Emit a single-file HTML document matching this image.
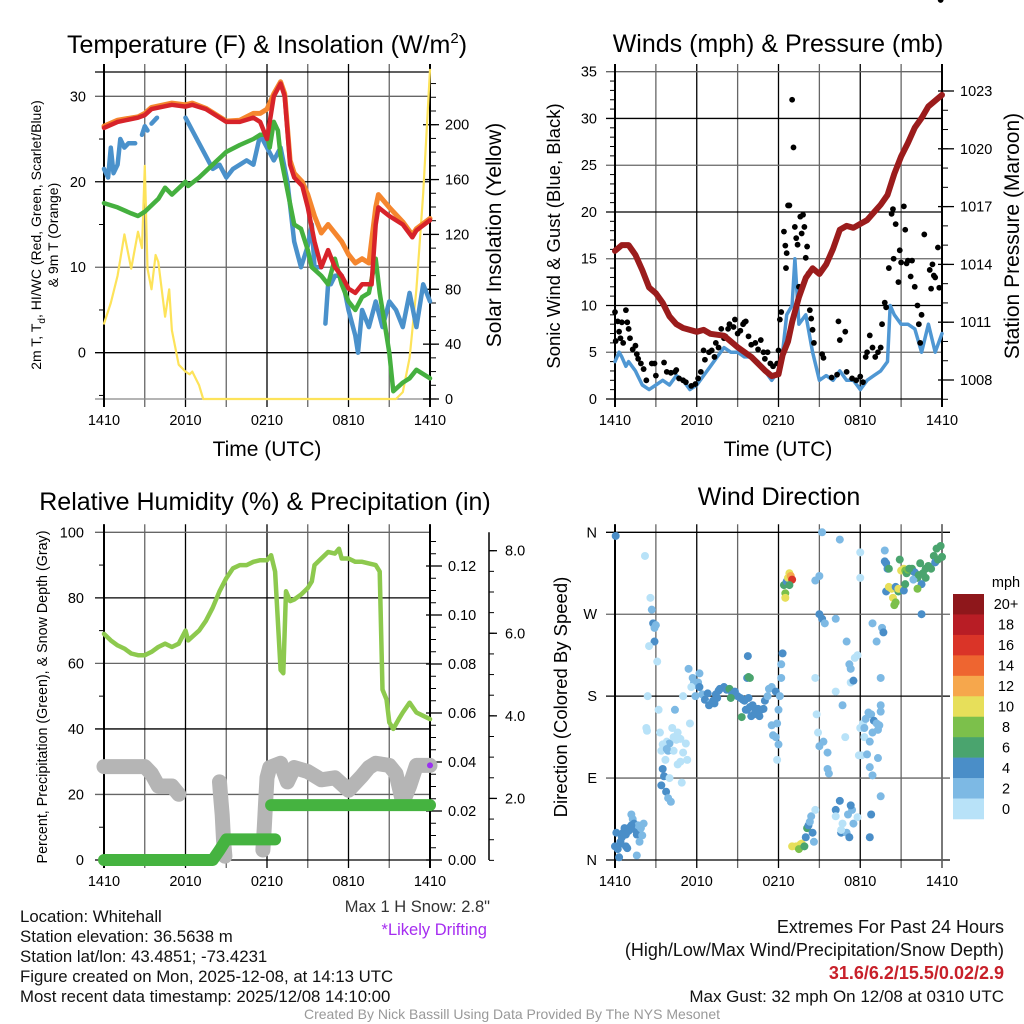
<!DOCTYPE html>
<html><head><meta charset="utf-8"><style>
html,body{margin:0;padding:0;background:#fff;}
svg{display:block;font-family:"Liberation Sans",Arial,sans-serif;}
</style></head><body>
<svg id="fig" width="1024" height="1024" viewBox="0 0 1024 1024" xmlns="http://www.w3.org/2000/svg">
<rect width="1024" height="1024" fill="#fff"/>
<g id="p1"></g>
<g id="p2"></g>
<g id="p3"></g>
<g id="p4"></g>
<g font-size="16.8" fill="#111">
<text x="20" y="922">Location: Whitehall</text>
<text x="20" y="942">Station elevation: 36.5638 m</text>
<text x="20" y="962">Station lat/lon: 43.4851; -73.4231</text>
<text x="20" y="982">Figure created on Mon, 2025-12-08, at 14:13 UTC</text>
<text x="20" y="1002">Most recent data timestamp: 2025/12/08 14:10:00</text>
<text x="490" y="912" text-anchor="end" fill="#333" font-size="16.5">Max 1 H Snow: 2.8"</text>
<text x="487" y="935" text-anchor="end" fill="#a52cf0" font-size="16.5">*Likely Drifting</text>
<g font-size="18">
<text x="1004" y="933" text-anchor="end">Extremes For Past 24 Hours</text>
<text x="1004" y="956" text-anchor="end">(High/Low/Max Wind/Precipitation/Snow Depth)</text>
<text x="1004" y="979" text-anchor="end" fill="#c8202a" font-weight="bold">31.6/6.2/15.5/0.02/2.9</text>
<text x="1004" y="1002" text-anchor="end" font-size="17">Max Gust: 32 mph On 12/08 at 0310 UTC</text>
</g>
<text x="512" y="1019" text-anchor="middle" font-size="14" fill="#999">Created By Nick Bassill Using Data Provided By The NYS Mesonet</text>
</g>
</svg>
<script>
// ---------- DATA ----------
const timeTicks = ["1410","2010","0210","0810","1410"];
// Panel 1
const tempT = [0,1,2.5,3,3.5,5,6,6.5,7.5,8,9,10,11,11.5,12,12.5,13,13.3,13.7,14,14.6,15,15.5,16,16.5,17,17.5,18,18.5,19,19.7,20,20.2,21,22,22.7,23,24];
const tempV = [26.3,27,27.5,27.8,28.5,29,28.8,29,28.5,28,27,27,27.5,27,25,30,31.5,30,22,20.5,19.5,17,13,10,12,10,9,7.5,7,8,8,15,17,16,15,13.5,14.3,15.5];
const t9T = [0,1,2.5,3,3.5,5,6,6.5,7.5,8,9,10,11,11.5,12,12.5,13,13.3,13.7,14,14.6,15,15.5,16,16.5,17,17.5,18,18.5,19,19.5,20,20.2,21,22,22.7,23,24];
const t9V = [26.5,27.2,27.6,28,28.7,29.2,29,29.2,28.6,28.1,27.1,27.2,28,28,28.5,30.3,31.7,30.3,22.5,21,20,18.5,16,14,15,14,13,11.5,10.5,11,10.5,17,18.5,17,15.3,13.8,14.5,15.7];
const dewT = [0,1,2,2.5,3,4,4.5,5,6,6.2,7,8,9,10,11,11.5,12,12.2,12.5,12.8,13,13.5,14,14.5,15,15.3,16,16.5,17,17.5,18,18.5,19,19.5,20,20.3,21,21.3,22,22.5,23,24];
const dewV = [17.5,17,16.3,16,16.5,18,19.3,18.5,20,19.5,20.5,22,23.5,24.3,25,25.5,25.5,24,27,26,23,19,15,14.5,12,10,9,8,11,8,6,5,6.5,7,11,7,0,-4.5,-3.5,-3,-2,-3];
const wcT = [0,0.3,0.5,0.7,1,1.2,1.5,1.8,2,2.3,null,2.8,3,3.2,null,3.5,3.9,null,6,6.5,7,7.5,8,8.5,9,9.5,10,10.5,11,11.5,12,12.5,13,13.5,14,14.5,15,15.3,15.5,16,null,16.3,16.5,16.7,17,17.5,18,18.5,18.7,19,19.5,20,20.5,21,21.5,22,22.5,23,23.5,24];
const wcV = [21.5,20.5,24,21,22,25,24,24.5,24.5,24.5,null,25.5,26.5,26,null,26.8,27.5,null,27.5,26,24.5,23,21.5,22,20.5,21.5,22,22.5,22,25.5,24,22.5,24,20,13,10,12.5,15,10,10,null,3.4,8,8,9,9,5,2,0,5,3,6,3,6,5,3,7,3,8,6];
const solT = [0,0.5,1,1.5,2,2.5,2.8,3,3.2,3.5,3.8,4,4.5,4.8,5,5.5,6,6.3,6.5,7,7.3,21.5,22,22.5,23,23.5,24];
const solV = [55,70,90,120,95,122,110,170,95,80,105,100,60,80,50,25,20,18,20,10,0,0,5,30,80,150,240];
// Panel 2
const presT = [0,0.5,1,1.5,2,2.5,3,3.5,4,4.5,5,6,6.5,7,8,9,10,11,11.5,12,12.3,12.7,13,13.5,14,14.5,15,15.5,16,16.5,17,17.5,18,18.5,19,19.5,20,20.5,21,21.5,22,22.5,23,24];
const presV = [1014.7,1015,1015,1014.5,1013.7,1012.8,1012.5,1012,1011.3,1010.9,1010.7,1010.5,1010.6,1010.4,1010.3,1009.7,1009.2,1008.5,1008.2,1008.3,1009.3,1010,1011,1012.3,1013.3,1013.8,1013.5,1014,1014.8,1015.8,1016,1015.9,1016.1,1016.3,1016.7,1017.1,1017.6,1018.7,1019.6,1020.3,1021.1,1021.6,1022.2,1022.8];
const windT = [0,0.3,0.5,0.8,1,1.5,2,2.5,3,3.5,4,4.5,5,5.5,6,6.5,7,7.5,8,8.5,9,9.5,10,10.5,11,11.5,12,12.3,12.6,13,13.2,13.5,14,14.5,15,15.5,16,16.5,17,17.5,18,18.5,19,19.5,20,20.2,20.5,21,21.5,22,22.5,23,23.5,24];
const windV = [4,5,4.5,3.5,4,3,1.5,1,1.5,2,1.5,2.5,2,1,1.5,2.5,3.5,4.5,5.5,5,5,4.5,4.5,4,3,2,3,5,9,10,15,8,9,5,2,2.5,2,3,2,2,1,2,2.5,3,4,10,9,8,8,7.5,5,8,5,7];
const gustT = [0,0.05,0.2,0.3,0.4,0.5,0.6,0.8,0.9,1,1.1,1.3,1.5,1.6,1.7,1.9,2.1,2.3,2.7,2.9,3.0,3.6,3.8,4.1,4.4,4.5,4.7,5.0,5.2,5.6,5.9,6.1,6.3,6.5,6.6,6.9,7.1,7.3,7.4,7.6,7.8,8.0,8.1,8.3,8.4,8.7,8.8,9.0,9.2,9.4,9.5,9.6,9.8,10.0,10.3,10.5,10.7,10.9,11.0,11.2,11.4,11.6,11.9,12.0,12.1,12.2,12.4,12.5,12.55,12.6,12.7,12.8,13.0,13.1,13.2,13.3,13.4,13.5,13.6,13.7,13.8,13.9,14.0,14.1,14.2,14.3,14.4,14.5,14.6,15.2,15.3,15.9,16.3,16.4,16.5,16.9,17.0,17.4,17.7,18.0,18.2,18.4,18.5,18.7,18.9,19.1,19.3,19.5,19.6,19.8,19.9,20.1,20.3,20.4,20.45,20.6,20.8,20.9,21.0,21.2,21.3,21.4,21.5,21.7,21.8,22.0,22.2,22.3,22.4,22.5,22.7,23.1,23.2,23.3,23.4,23.5,23.7,23.8,23.9];
const gustV = [9.3,6.2,8.3,7.2,6.5,8.2,6.0,9.5,8.2,7.5,6.5,5.3,5.7,4.8,4.3,3.8,3.2,2.0,3.8,3.8,2.5,3.9,2.9,2.8,2.9,3.1,2.2,2.0,1.8,1.4,1.6,2.2,2.9,5.2,4.2,5.0,5.2,4.5,6.0,5.5,7.5,6.5,6.7,7.5,8.0,7.7,8.5,7.0,7.3,8.0,8.2,8.3,6.7,5.8,6.0,5.3,6.3,5.0,4.3,5.0,3.8,3.5,3.8,5.2,8.5,9.3,17.9,16.4,14.0,15.6,20.7,20.7,32.0,26.9,18.4,17.2,16.5,12.0,19.5,17.7,19.7,18.4,15.1,16.3,13.4,9.5,8.6,7.4,6.0,4.8,4.4,2.3,2.6,8.3,6.3,7.2,2.9,2.2,2.0,2.4,1.8,4.5,5.0,6.8,5.5,4.5,5.0,5.5,8.0,10.3,9.8,14.0,19.8,20.3,15.0,18.7,12.5,15.9,14.6,20.6,18.1,14.5,14.8,13.1,14.8,12.0,10.0,8.0,6.0,9.0,17.6,13.8,11.8,14.4,13.2,13.0,16.2,11.9];
// Panel 3
const rhT = [0,0.5,1,1.5,2,2.5,3,3.5,4,4.5,5,5.5,6,6.2,7,7.5,8,8.5,9,9.5,10,10.5,11,11.5,12,12.3,12.6,13,13.2,13.4,13.7,14,14.5,15,15.3,15.5,16,16.5,17,17.3,17.5,18,18.5,19,19.5,20,20.3,20.5,20.8,21,21.3,21.7,22,22.5,23,23.5,24];
const rhV = [69,67,65.5,64.5,63,62.5,62.5,63.5,65,66,65,66,70,67,70,73,77,82,86,89,90,90,91,91.5,91.5,93,88,58,57,82,79,79.5,81,83,85,90,92,94,93.5,95,92,92,91,91,90.5,90,88,52,49,42,40,43,45,48,45,44,43];
const precipT = [0,8.0,8.5,9.0,12.6,null,12.3,24];
const precipV = [0,0,0.004,0.0084,0.0084,null,0.0224,0.0224];
const snowT = [0,1,2,3,3.5,4,5,5.5,null,8.5,8.6,8.7,8.8,8.9,null,11.7,11.8,11.9,12.0,12.2,13,13.5,14,15,16,17,18,19,19.5,20,21,21.5,22,22.5,23,24];
const snowIn = [2.77,2.77,2.77,2.77,2.6,2.3,2.3,2.1,null,2.4,2.0,1.6,1.0,0.6,null,0.75,1.3,1.9,2.5,2.75,2.85,2.4,2.75,2.65,2.45,2.5,2.2,2.55,2.75,2.85,2.8,2.6,1.9,2.3,2.8,2.8];
// Panel 4
const dirT = [0.05,0,0.1,0.2,0.3,0.4,0.5,0.6,0.7,0.8,0.9,1.0,1.1,1.2,1.3,1.4,1.5,1.6,1.7,1.8,1.9,2.1,1.6,2.0,0.4,0.8,1.2,2.2,2.6,2.7,2.8,2.9,3.0,2.9,2.5,3.1,2.4,2.3,2.35,3.2,3.3,3.4,3.5,3.6,3.4,3.75,3.9,4.1,3.8,4.0,4.3,3.5,3.7,3.9,4.2,4.5,4.6,4.3,4.8,5.2,5.0,4.6,4.8,5.3,5.5,5.0,4.4,3.8,4.0,4.9,5.7,5.8,6.0,6.1,6.2,6.4,6.6,6.8,7.0,7.2,7.4,7.5,7.7,8.0,8.2,8.4,8.6,8.8,9.0,9.2,9.4,6.9,7.3,7.6,5.4,5.6,5.9,6.2,8.5,9.5,9.7,9.8,9.9,9.6,10.1,10.3,10.5,10.2,10.7,10.9,10.6,10.0,9.3,9.7,9.9,9.8,9.75,11.0,11.2,11.3,11.5,11.8,12.0,11.5,11.6,11.8,12.0,11.9,12.3,12.2,12.2,12.1,11.9,12.4,12.5,12.5,12.6,12.7,12.8,12.9,13.0,12.8,13.0,13.3,13.6,13.7,13.5,13.9,14.0,14.1,14.2,14.3,14.4,14.5,14.6,14.7,14.7,15.0,15.2,15.0,15.2,15.4,14.7,14.8,14.9,15.0,15.3,15.6,15.6,15.7,16.2,16.2,16.5,16.7,16.9,17.0,17.3,17.6,17.8,17.2,17.3,17.5,17.4,17.5,17.8,16.2,16.5,16.6,17.0,16.7,17.1,17.3,16.2,16.6,17.2,18.0,18.0,18.0,18.2,18.3,17.9,18.1,18.3,18.6,18.8,19.0,18.4,18.9,19.2,19.4,19.5,18.5,18.7,18.9,19.3,18.9,19.2,19.6,19.7,19.5,18.7,19.3,19.5,18.7,18.8,19.5,19.8,19.8,19.9,20.0,20.1,19.9,20.1,20.3,20.4,20.5,20.6,20.8,20.6,20.8,20.9,21.0,21.2,21.3,21.4,21.5,21.8,21.9,22.0,22.2,22.4,22.6,22.8,23.0,23.2,23.4,23.6,23.9,22.8,22.5,21.2,22.2,22.5,21.9,23.5,23.7,24.0,21.3,21.6,22.3];
const dirDeg = [356,15,30,12,3,20,25,30,35,28,13,32,36,50,45,40,33,28,38,20,35,40,5,27,18,15,38,334,288,275,260,255,258,240,235,218,180,145,142,165,140,120,100,92,82,75,68,64,130,128,135,127,110,120,145,132,140,120,133,128,118,105,108,110,150,180,165,122,90,85,200,195,192,195,190,182,176,183,172,175,182,178,188,190,187,188,182,185,180,178,176,170,172,186,210,190,180,205,178,175,200,178,168,165,170,166,166,160,165,166,158,158,157,165,200,201,224,175,180,188,190,185,165,148,137,135,127,110,227,215,200,180,150,302,293,288,306,310,315,312,308,302,15,15,17,18,12,15,25,35,38,42,48,30,20,55,307,312,360,270,265,260,200,160,140,125,130,118,100,95,185,265,352,170,135,240,210,222,225,215,195,197,55,40,47,55,65,30,30,40,50,60,48,33,25,338,310,145,150,135,115,115,145,162,160,153,155,140,150,148,163,116,102,93,112,260,240,255,250,200,130,143,170,25,50,70,340,328,326,320,320,295,300,298,288,280,283,295,300,298,330,318,320,318,315,319,320,317,316,310,326,315,320,323,320,334,342,345,310,303,296,298,270,308,327,330,333,303,320,313];
const dirSpd = [4,4,4,4,4,4,4,4,4,4,4,4,4,2,3,4,4,4,2,2,2,2,2,2,5,4,5,0,0,3,4,3,3,4,0,0,0,0,0,0,0,0,4,4,4,4,2,2,0,2,0,0,0,2,0,0,0,0,0,0,0,0,0,0,0,0,2,2,0,0,2,2,2,2,4,2,4,4,2,4,4,4,4,4,4,6,4,4,4,4,4,4,4,4,2,0,2,2,6,4,4,4,4,4,4,4,4,4,4,4,4,4,6,4,6,6,4,4,2,2,2,4,2,2,2,2,2,0,4,2,2,2,2,6,8,10,4,10,10,12,16,6,10,10,10,10,8,6,4,6,4,2,2,4,2,0,2,2,2,4,4,3,0,0,0,2,2,2,2,2,0,2,2,2,0,2,2,0,0,2,0,4,2,2,0,4,4,4,2,0,2,4,0,0,4,0,0,0,0,0,0,0,2,2,2,4,2,2,2,2,2,2,2,2,2,2,2,2,4,2,2,2,2,4,4,2,2,4,4,4,6,4,10,10,10,8,8,6,4,10,6,10,10,8,6,8,6,6,4,6,6,6,6,6,6,6,6,6,6,4,4,8,4,2,4,6,6,6,6,6,4];
const cbLabels = ["20+","18","16","14","12","10","8","6","4","2","0"];
const cbColors = ["#8e171b","#b81d25","#da3428","#ee6530","#f6a74c","#e7df5a","#7cc04b","#4aa46e","#4a8ec8","#7db9e4","#b8e2f8"];

// ---------- HELPERS ----------
const NS="http://www.w3.org/2000/svg";
function el(parent,tag,attrs,text){const e=document.createElementNS(NS,tag);for(const k in attrs)e.setAttribute(k,attrs[k]);if(text!==undefined)e.textContent=text;parent.appendChild(e);return e;}
function mkX(x0,x1){return t=>x0+t*(x1-x0)/24;}
function mkY(v0,y0,v1,y1){return v=>y0+(v-v0)*(y1-y0)/(v1-v0);}
function pathD(T,V,X,Y){let d="",pen=false;for(let i=0;i<T.length;i++){if(T[i]===null||V[i]===null){pen=false;continue;}d+=(pen?"L":"M")+X(T[i]).toFixed(1)+" "+Y(V[i]).toFixed(1);pen=true;}return d;}
function line(g,T,V,X,Y,color,w,name,cap){const p=el(g,"path",{d:pathD(T,V,X,Y),fill:"none",stroke:color,"stroke-width":w,"stroke-linejoin":"round","stroke-linecap":cap||"round"});


return p;}
function frame(g,x0,x1,y0,y1,X,name){
  const fr=el(g,"g",{});
  
  
  for(let h=0;h<=24;h+=3){const x=X(h);el(fr,"line",{x1:x,x2:x,y1:y0-8,y2:y1+8,stroke:(h%6===0?"#000":"#666"),"stroke-width":1.3});}
  timeTicks.forEach((lab,i)=>{const t=el(g,"text",{x:X(i*6),y:y1+26,"text-anchor":"middle","font-size":14.5},lab);
    
    });
}
function hgrid(g,Y,vals,x0,x1,labels,lx,anchor,fs){
  vals.forEach((v,i)=>{const y=Y(v);el(g,"line",{x1:x0-9,x2:x1,y1:y,y2:y,stroke:(i%2?"#666":"#000"),"stroke-width":1.3});
    if(labels){const t=el(g,"text",{x:lx,y:y+5,"text-anchor":anchor,"font-size":fs||14.5},labels[i]);
    
    }});
}
function ticks(g,Y,vals,x,len){vals.forEach(v=>el(g,"line",{x1:x,x2:x+len,y1:Y(v),y2:Y(v),stroke:"#000","stroke-width":1}));}
function rlabels(g,Y,vals,labs,x,fs){vals.forEach((v,i)=>{el(g,"line",{x1:x-8,x2:x+8,y1:Y(v),y2:Y(v),stroke:"#000","stroke-width":1.3});const t=el(g,"text",{x:x+14,y:Y(v)+5,"font-size":fs||14.5},labs[i]);

});}
function title(g,x,y,txt,name,fs){const t=el(g,"text",{x:x,y:y,"text-anchor":"middle","font-size":fs||25},txt);

return t;}
function vtitle(g,x,y,txt,name,fs){const t=el(g,"text",{x:x,y:y,"text-anchor":"middle","font-size":fs,transform:`rotate(-90 ${x} ${y})`},txt);

return t;}
function range(a,b,s){const r=[];for(let v=a;v<=b+1e-9;v+=s)r.push(+v.toFixed(4));return r;}

// ---------- PANEL 1 ----------
(function(){
const g=document.getElementById("p1");
const x0=104,x1=430,y0=72,y1=399;const X=mkX(x0,x1);
const Y=mkY(0,352.7,30,96.3);const YS=mkY(0,399,200,124.7);
frame(g,x0,x1,y0,y1,X,"temperature");
hgrid(g,Y,[0,10,20,30],x0,x1,["0","10","20","30"],86,"end");
el(g,"line",{x1:x0-9,x2:x1,y1:y0,y2:y0,stroke:"#000","stroke-width":1.3});
el(g,"line",{x1:x0-9,x2:x1+6,y1:y1,y2:y1,stroke:"#888","stroke-width":1.3});
ticks(g,Y,[-5,5,15,25],x0-5,5);
ticks(g,YS,range(10,230,10),x1,6);
rlabels(g,YS,[0,40,80,120,160,200],["0","40","80","120","160","200"],x1+1);
el(g,"line",{x1:x0,x2:x0,y1:y0-8,y2:y1+8,stroke:"#000","stroke-width":2});
el(g,"line",{x1:x1,x2:x1,y1:y0-8,y2:y1+8,stroke:"#000","stroke-width":2});
line(g,solT,solV,X,YS,"#fde35a",2.2,"insolation-line");
line(g,wcT,wcV,X,Y,"#4a91cb",4.5,"windchill-line");
line(g,dewT,dewV,X,Y,"#45b03f",4.5,"dewpoint-line");
line(g,t9T,t9V,X,Y,"#f5862e",5,"temp-9m-line");
line(g,tempT,tempV,X,Y,"#d7232a",4.5,"temp-2m-line");
const tt=el(g,"text",{x:267,y:53,"text-anchor":"middle","font-size":25});


tt.innerHTML='Temperature (F) &amp; Insolation (W/m<tspan dy="-10" font-size="15">2</tspan><tspan dy="10">)</tspan>';
title(g,267,456,"Time (UTC)","x-axis-title",21);
const yl=el(g,"text",{x:41,y:235,"text-anchor":"middle","font-size":14,transform:"rotate(-90 41 235)"});


yl.innerHTML='2m T, T<tspan dy="4" font-size="10">d</tspan><tspan dy="-4">, HI/WC (Red, Green, Scarlet/Blue)</tspan>';
vtitle(g,58,235,"& 9m T (Orange)","y-axis-title-line2",14);
vtitle(g,501,235,"Solar Insolation (Yellow)","right-axis-title",21);
})();

// ---------- PANEL 2 ----------
(function(){
const g=document.getElementById("p2");
const x0=615,x1=942,y0=72,y1=399;const X=mkX(x0,x1);
const Y=mkY(0,399,35,71.7);const YP=mkY(1008,380,1023,91);
frame(g,x0,x1,y0,y1,X,"wind");
hgrid(g,Y,[0,5,10,15,20,25,30,35],x0,x1,["0","5","10","15","20","25","30","35"],597,"end");
ticks(g,Y,range(1,34,1).filter(v=>v%5),x0-5,5);
ticks(g,YP,range(1007,1023,1),x1,6);
rlabels(g,YP,[1008,1011,1014,1017,1020,1023],["1008","1011","1014","1017","1020","1023"],x1+4);
el(g,"line",{x1:x0,x2:x0,y1:y0-8,y2:y1+8,stroke:"#000","stroke-width":2});
el(g,"line",{x1:x1,x2:x1,y1:y0-8,y2:y1+8,stroke:"#000","stroke-width":2});
line(g,windT,windV,X,Y,"#4f97d3",3.5,"sonic-wind-line");
const gg=el(g,"g",{});


gustT.forEach((t,i)=>{const c=el(gg,"circle",{cx:X(t),cy:Y(gustV[i]),r:2.9,fill:"#000"});

});
line(g,presT,presV,X,YP,"#9b1c1c",6,"pressure-line");
title(g,778,52,"Winds (mph) & Pressure (mb)","wind-title",25);
title(g,778,456,"Time (UTC)","x-axis-title-2",21);
vtitle(g,560,236,"Sonic Wind & Gust (Blue, Black)","y-axis-title-2",18.5);
vtitle(g,1019,236,"Station Pressure (Maroon)","right-axis-title-2",21);
})();

// ---------- PANEL 3 ----------
(function(){
const g=document.getElementById("p3");
const x0=104,x1=430,y0=532.3,y1=860;const X=mkX(x0,x1);
const Y=mkY(0,860,100,532.3);const YP=mkY(0,860,0.12,566);const YS=mkY(0,881,8,550.7);
frame(g,x0,x1,y0,y1,X,"humidity");
hgrid(g,Y,[0,20,40,60,80,100],x0,x1,["0","20","40","60","80","100"],84,"end");
ticks(g,Y,[10,30,50,70,90],x0-5,5);
ticks(g,YP,range(0.005,0.13,0.005),x1,6);
rlabels(g,YP,[0,0.02,0.04,0.06,0.08,0.10,0.12],["0.00","0.02","0.04","0.06","0.08","0.10","0.12"],x1+4);
el(g,"line",{x1:489,x2:489,y1:y0,y2:y1,stroke:"#000","stroke-width":1.5});
ticks(g,YS,range(0.5,8,0.5),489,5);
[2,4,6,8].forEach(v=>{el(g,"line",{x1:489,x2:497,y1:YS(v),y2:YS(v),stroke:"#000","stroke-width":1.3});
const t=el(g,"text",{x:505,y:YS(v)+5,"font-size":14.5},v.toFixed(1));

});
el(g,"line",{x1:x0,x2:x0,y1:y0-8,y2:y1+8,stroke:"#000","stroke-width":2});
el(g,"line",{x1:x1,x2:x1,y1:y0-8,y2:y1+8,stroke:"#000","stroke-width":2});
line(g,snowT,snowIn,X,YS,"#b5b5b5",15,"snow-depth-line");
line(g,precipT,precipV,X,YP,"#45b340",12,"precip-line");
line(g,rhT,rhV,X,Y,"#8dc94e",4.5,"rh-line");
const m=el(g,"circle",{cx:x1,cy:YS(2.8),r:3,fill:"#9b30f0"});


title(g,265,510,"Relative Humidity (%) & Precipitation (in)","humidity-title",25);
vtitle(g,47,697,"Percent, Precipitation (Green), & Snow Depth (Gray)","y-axis-title-3",14.3);
})();

// ---------- PANEL 4 ----------
(function(){
const g=document.getElementById("p4");
const x0=615,x1=942,y0=532.3,y1=860;const X=mkX(x0,x1);
const Y=mkY(0,860,360,532.3);
frame(g,x0,x1,y0,y1,X,"direction");
hgrid(g,Y,[0,90,180,270,360],x0,x1+8,["N","E","S","W","N"],597,"end");
el(g,"line",{x1:x0,x2:x0,y1:y0-8,y2:y1+8,stroke:"#000","stroke-width":2});
el(g,"line",{x1:x1,x2:x1,y1:y0-8,y2:y1+8,stroke:"#666","stroke-width":1.5});
function col(s){let b=Math.min(10,Math.floor(s/2));return cbColors[10-b];}
const dg=el(g,"g",{});


dirT.forEach((t,i)=>{const c=el(dg,"circle",{cx:X(t),cy:Y(dirDeg[i]),r:4,fill:col(dirSpd[i])});

});
const cb=el(g,"g",{});


const bh=(819-594)/11;
cbLabels.forEach((lab,i)=>{const r=el(cb,"rect",{x:953,y:594+i*bh,width:31,height:bh+0.3,fill:cbColors[i]});


const t=el(cb,"text",{x:1006,y:594+i*bh+bh/2+5,"text-anchor":"middle","font-size":14.5},lab);

});
const mph=el(cb,"text",{x:1006,y:587,"text-anchor":"middle","font-size":14.5},"mph");


title(g,779,505,"Wind Direction","direction-title",25);
vtitle(g,567,697,"Direction (Colored By Speed)","y-axis-title-4",18.5);
})();
</script>
</body></html>
